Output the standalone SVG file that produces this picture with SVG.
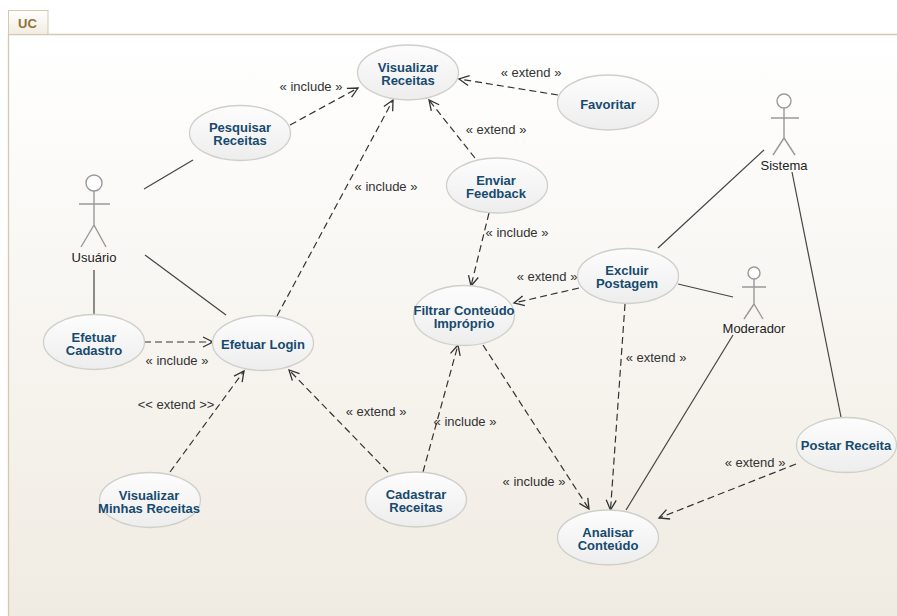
<svg xmlns="http://www.w3.org/2000/svg" width="897" height="616" viewBox="0 0 897 616">
<style>
text{font-family:"Liberation Sans",Arial,sans-serif;text-anchor:middle}
.uc ellipse{fill:url(#ug);stroke:#cfcfca;stroke-width:1.3}
.uc text{font-size:13px;font-weight:bold;fill:#164a6e}
.an{font-size:13px;fill:#333}
.actor *{fill:none;stroke:#999;stroke-width:1.4}
.actor circle{fill:#fff}
.actor text{font-size:13px;fill:#222;stroke:none}
.s{stroke:#444;stroke-width:1.2;fill:none}
.d{stroke:#333;stroke-width:1.2;fill:none;stroke-dasharray:7 4;marker-end:url(#ah)}
</style>
<defs>
<linearGradient id="bg" x1="0" y1="0" x2="0" y2="1"><stop offset="0" stop-color="#fff"/><stop offset="1" stop-color="#f0ebe2"/></linearGradient>
<linearGradient id="ug" x1="0" y1="0" x2="0" y2="1"><stop offset="0" stop-color="#fdfdfd"/><stop offset="1" stop-color="#ededee"/></linearGradient>
<linearGradient id="tg" x1="0" y1="0" x2="0" y2="1"><stop offset="0" stop-color="#fff"/><stop offset="1" stop-color="#f1ece0"/></linearGradient>
<marker id="ah" markerUnits="userSpaceOnUse" markerWidth="14" markerHeight="14" refX="11" refY="7" orient="auto" overflow="visible"><path d="M1 2L11 7L1 12" fill="none" stroke="#333" stroke-width="1.3"/></marker>
</defs>
<rect width="897" height="616" fill="#fff"/>
<rect x="9" y="35" width="889" height="582" fill="url(#bg)"/>
<path d="M8.500 616V34.500H897" fill="none" stroke="#d3c9b1" stroke-width="1.300"/>
<g id="frame-tab"><rect x="8.500" y="10.500" width="39.500" height="24" fill="url(#tg)" stroke="#d3c9b1"/><text x="27.500" y="28" style="font-size:13px;font-weight:bold;fill:#8f7135">UC</text></g>

<g id="connectors">
<path class="s" d="M144 189L193 160"/>
<path class="s" d="M145 255L226 315"/>
<path class="s" d="M94 270V314"/>
<path class="s" d="M658 248L764 150"/>
<path class="s" d="M678 284L733 297"/>
<path class="s" d="M626 510L733 335"/>
<path class="s" d="M792 172L841 417"/>
<path class="d" d="M290 125L358 88"/>
<path class="d" d="M558 95L459 79"/>
<path class="d" d="M475 158L429 100"/>
<path class="d" d="M277 316L393 100"/>
<path class="d" d="M489 213L471 286"/>
<path class="d" d="M579 288L514 303"/>
<path class="d" d="M625 304L610.500 510"/>
<path class="d" d="M483 345L589 509"/>
<path class="d" d="M144 342H213"/>
<path class="d" d="M170 472L244 371"/>
<path class="d" d="M388 472L289 370"/>
<path class="d" d="M423 472L458 345"/>
<path class="d" d="M796 464L659 518"/>
</g>

<g id="labels">
<text class="an" x="311" y="91">« include »</text>
<text class="an" x="531" y="77">« extend »</text>
<text class="an" x="496" y="134">« extend »</text>
<text class="an" x="386" y="191">« include »</text>
<text class="an" x="517" y="237">« include »</text>
<text class="an" x="547" y="281">« extend »</text>
<text class="an" x="656" y="362">« extend »</text>
<text class="an" x="177" y="365">« include »</text>
<text class="an" x="176" y="409">&lt;&lt; extend &gt;&gt;</text>
<text class="an" x="376" y="416">« extend »</text>
<text class="an" x="465" y="426">« include »</text>
<text class="an" x="534" y="486">« include »</text>
<text class="an" x="755" y="467">« extend »</text>
</g>

<g id="actor-usuario" class="actor"><circle cx="94" cy="183" r="8"/><path d="M94 191V225M79 204H110M94 225L81 247M94 225L106 247"/><text x="94" y="262">Usuário</text></g>
<g id="actor-sistema" class="actor"><circle cx="784" cy="101" r="7"/><path d="M784 108V138M771 118H799M784 138L773 155M784 138L795 155"/><text x="784" y="170">Sistema</text></g>
<g id="actor-moderador" class="actor"><circle cx="754" cy="273" r="6"/><path d="M754 279V304M742 287H766M754 304L744 319M754 304L763 319"/><text x="754" y="333">Moderador</text></g>

<g id="uc-pesquisar" class="uc"><ellipse cx="240" cy="133" rx="50.500" ry="27.500"/><text x="240" y="132">Pesquisar<tspan x="240" dy="13">Receitas</tspan></text></g>
<g id="uc-visualizar" class="uc"><ellipse cx="408" cy="72.500" rx="50.500" ry="27.500"/><text x="408" y="72">Visualizar<tspan x="408" dy="13">Receitas</tspan></text></g>
<g id="uc-favoritar" class="uc"><ellipse cx="608" cy="102.500" rx="50.500" ry="27.500"/><text x="608" y="109">Favoritar</text></g>
<g id="uc-enviar" class="uc"><ellipse cx="497" cy="185.500" rx="50.500" ry="27.500"/><text x="496" y="185">Enviar<tspan x="496" dy="13">Feedback</tspan></text></g>
<g id="uc-cadastro" class="uc"><ellipse cx="94" cy="342" rx="50.500" ry="27.500"/><text x="94" y="342">Efetuar<tspan x="94" dy="13">Cadastro</tspan></text></g>
<g id="uc-login" class="uc"><ellipse cx="263" cy="343" rx="50.500" ry="27.500"/><text x="263" y="349">Efetuar Login</text></g>
<g id="uc-minhas" class="uc"><ellipse cx="150" cy="500" rx="50.500" ry="27.500"/><text x="149" y="500">Visualizar<tspan x="149" dy="13">Minhas Receitas</tspan></text></g>
<g id="uc-cadastrar" class="uc"><ellipse cx="416" cy="499.500" rx="50.500" ry="27.500"/><text x="416" y="499">Cadastrar<tspan x="416" dy="13">Receitas</tspan></text></g>
<g id="uc-filtrar" class="uc"><ellipse cx="464" cy="315.500" rx="50.500" ry="30"/><text x="464" y="315">Filtrar Conteúdo<tspan x="464" dy="13">Impróprio</tspan></text></g>
<g id="uc-excluir" class="uc"><ellipse cx="628" cy="276" rx="50.500" ry="27.500"/><text x="627" y="275">Excluir<tspan x="627" dy="13">Postagem</tspan></text></g>
<g id="uc-postar" class="uc"><ellipse cx="846.500" cy="445" rx="50" ry="27.500"/><text x="846" y="450">Postar Receita</text></g>
<g id="uc-analisar" class="uc"><ellipse cx="608" cy="537.500" rx="50.500" ry="27.500"/><text x="608" y="537">Analisar<tspan x="608" dy="13">Conteúdo</tspan></text></g>
</svg>
